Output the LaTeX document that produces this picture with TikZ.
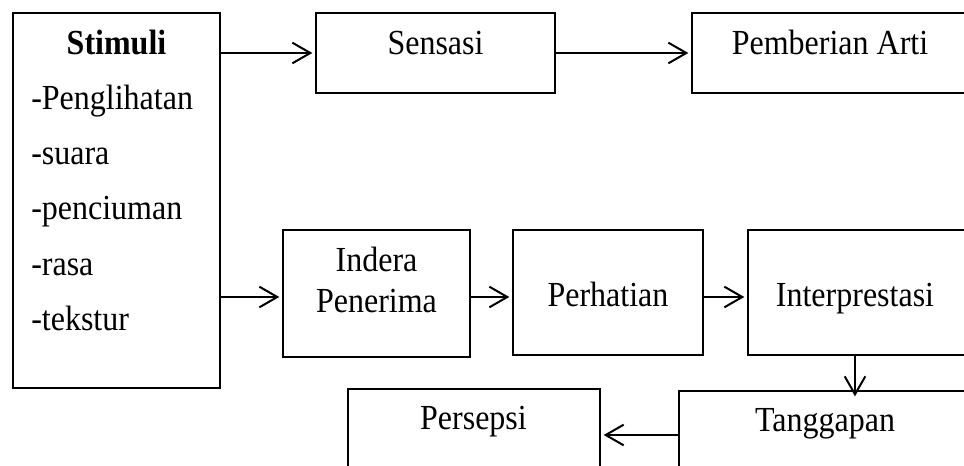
\documentclass[tikz,border=0pt]{standalone}
\usepackage{fontspec}
\setmainfont{Liberation Serif}
\usetikzlibrary{arrows.meta,fit,calc}
\newcommand{\tallt}[1]{\scalebox{1}[1.1]{#1}}
\begin{document}
\begin{tikzpicture}[x=0.75pt,y=-0.75pt,
  box/.style={draw=black, line width=1pt, inner sep=0pt},
  lbl/.style={inner sep=0pt, anchor=base, font=\fontsize{24}{28}\selectfont},
  lbll/.style={lbl, anchor=base west},
  arr/.style={line width=1.5pt, -{Straight Barb[length=13.5pt,width=15.5pt]}, shorten >=2.25pt}]
\useasboundingbox (0,0) rectangle (964,466);
\clip (0,0) rectangle (964,466);
% boxes
\node[box, fit={(13,13) (220,388)}] (stimB) {};
\node[box, fit={(316,13) (555,93)}] (sensB) {};
\node[box, fit={(692,13) (990,93)}] (artiB) {};
\node[box, fit={(283,230) (470,357)}] (indB) {};
\node[box, fit={(513,230) (703,355)}] (perB) {};
\node[box, fit={(748,230) (990,355)}] (intB) {};
\node[box, fit={(348,389) (600,490)}] (persB) {};
\node[box, fit={(679,391) (990,490)}] (tangB) {};
% texts
\node[lbl] (stimT) at (116.5,55) {\tallt{\textbf{Stimuli}}};
\node[lbll] (s1) at (31,110) {\tallt{-Penglihatan}};
\node[lbll] (s2) at (31,165) {\tallt{-suara}};
\node[lbll] (s3) at (31,220) {\tallt{-penciuman}};
\node[lbll] (s4) at (31,276) {\tallt{-rasa}};
\node[lbll] (s5) at (31,331) {\tallt{-tekstur}};
\node[lbl] (sensT) at (435.5,55) {\tallt{Sensasi}};
\node[lbl] (artiT) at (830,55) {\tallt{Pemberian Arti}};
\node[lbl] (indT1) at (376.5,272) {\tallt{Indera}};
\node[lbl] (indT2) at (376.5,313) {\tallt{Penerima}};
\node[lbl] (perT) at (608,307) {\tallt{Perhatian}};
\node[lbl] (intT) at (855,307) {\tallt{Interprestasi}};
\node[lbl] (persT) at (473.5,430) {\tallt{Persepsi}};
\node[lbl] (tangT) at (825,432) {\tallt{Tanggapan}};
% connectors
\draw[arr] (stimB.east |- sensB.west) -- (sensB.west);
\draw[arr] (sensB.east) -- (artiB.west |- sensB.east);
\coordinate (row) at ($(indB.west)+(0,3.5)$);
\draw[arr] (stimB.east |- row) -- (row);
\draw[arr] (indB.east |- row) -- (perB.west |- row);
\draw[arr] (perB.east |- row) -- (intB.west |- row);
\draw[arr, shorten >=-4.5pt] (intT |- intB.south) -- (intT |- tangB.north);
\coordinate (brow) at ($(tangB.west |- tangT.base)+(0,3)$);
\draw[arr] (brow) -- (persB.east |- brow);
\end{tikzpicture}
\end{document}
